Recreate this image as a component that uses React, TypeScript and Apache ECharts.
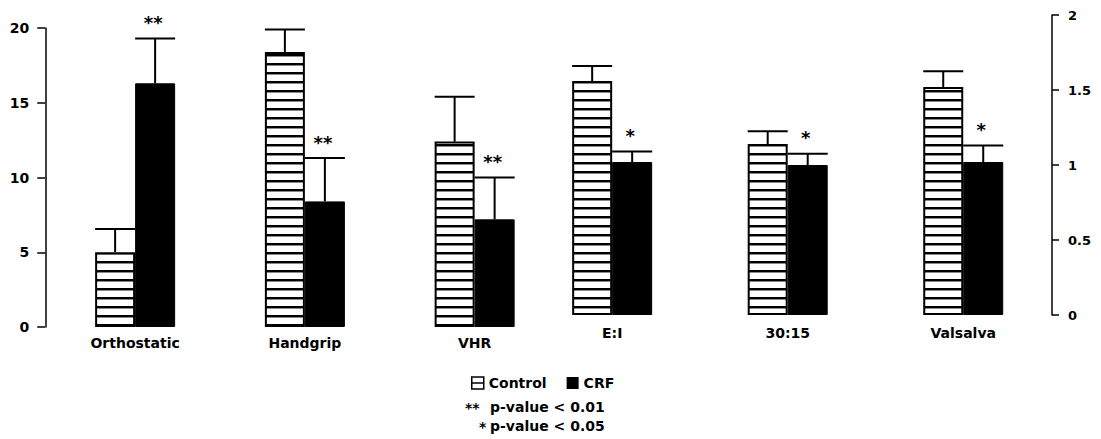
import { useEffect, useRef } from "react";
import * as echarts from "echarts";

// ---- data ----
const categories = ["Orthostatic", "Handgrip", "VHR", "E:I", "30:15", "Valsalva"];
// 0 = left axis (0-20), 1 = right axis (0-2)
const axisOfCategory = [0, 0, 0, 1, 1, 1];
const controlMean = [5.0, 18.4, 12.4, 1.56, 1.14, 1.52];
const controlErr = [1.55, 1.5, 3.0, 0.1, 0.085, 0.105];
const crfMean = [16.3, 8.4, 7.2, 1.02, 1.0, 1.02];
const crfErr = [3.0, 2.9, 2.8, 0.07, 0.075, 0.11];
const significance = ["**", "**", "**", "*", "*", "*"];
const leftAxisRange = { min: 0, max: 20, interval: 5 };
const rightAxisRange = { min: 0, max: 2, interval: 0.5 };
const seriesNames = ["Control", "CRF"];
const noteMarks = ["**", "*"];
const noteTexts = ["p-value < 0.01", "p-value < 0.05"];

const FONT = "DejaVu Sans";

function makeStripePattern() {
  const c = document.createElement("canvas");
  c.width = 8;
  c.height = 9;
  const ctx = c.getContext("2d")!;
  ctx.fillStyle = "#ffffff";
  ctx.fillRect(0, 0, 8, 9);
  ctx.fillStyle = "#000000";
  ctx.fillRect(0, 0, 8, 2);
  ctx.fillStyle = "#888888";
  ctx.fillRect(0, 2, 8, 1);
  return { image: c, repeat: "repeat" as const };
}

function idxFor(group: number) {
  const out: number[] = [];
  axisOfCategory.forEach((g, i) => {
    if (g === group) out.push(i);
  });
  return out;
}

export default function App() {
  const ref = useRef<HTMLDivElement>(null);
  useEffect(() => {
    if (!ref.current) return;
    const chart = echarts.init(ref.current, null, { renderer: "svg" });
    const stripe = makeStripePattern();
    const BAR_W = 40;

    const errSeries = (group: number, which: 0 | 1) => {
      const idx = idxFor(group);
      const means = which === 0 ? controlMean : crfMean;
      const errs = which === 0 ? controlErr : crfErr;
      const offset = which === 0 ? -BAR_W / 2 : BAR_W / 2;
      return {
        type: "custom",
        xAxisIndex: group,
        yAxisIndex: group,
        z: 5,
        silent: true,
        encode: { x: 0, y: 1 },
        data: idx.map((ci, k) => [k, means[ci], errs[ci]]),
        renderItem: (params: any, api: any) => {
          const k = api.value(0);
          const m = api.value(1);
          const e = api.value(2);
          const base = api.coord([k, m]);
          const top = api.coord([k, m + e]);
          const x = base[0] + offset;
          const children: any[] = [
            {
              type: "line",
              shape: { x1: x, y1: base[1], x2: x, y2: top[1] },
              style: { stroke: "#000", lineWidth: 2 },
            },
            {
              type: "line",
              shape: { x1: x - 20, y1: top[1], x2: x + 20, y2: top[1] },
              style: { stroke: "#000", lineWidth: 2 },
            },
          ];
          if (which === 1) {
            children.push({
              type: "text",
              x: x - 2,
              y: top[1] - 16,
              style: {
                text: significance[idx[params.dataIndex]],
                fill: "#000",
                font: `bold 18px "${FONT}"`,
                align: "center",
                verticalAlign: "middle",
                textAlign: "center",
                textVerticalAlign: "middle",
              },
            });
          }
          return { type: "group", children };
        },
      };
    };

    const barSeries = (group: number, which: 0 | 1) => {
      const idx = idxFor(group);
      const means = which === 0 ? controlMean : crfMean;
      return {
        type: "bar",
        name: seriesNames[which],
        xAxisIndex: group,
        yAxisIndex: group,
        barWidth: BAR_W,
        barGap: "0%",
        data: idx.map((ci) => means[ci]),
        itemStyle:
          which === 0
            ? { color: stripe, borderColor: "#000", borderWidth: 2 }
            : { color: "#000", borderColor: "#000", borderWidth: 1 },
      };
    };

    const labelStyle = { color: "#000", fontFamily: FONT, fontWeight: "bold" as const, fontSize: 14 };

    const option: any = {
      animation: false,
      backgroundColor: "#ffffff",
      grid: [
        { left: 50.25, right: 541.5, top: 28, bottom: 112 },
        { left: 524.4, right: 50, top: 15, bottom: 124 },
      ],
      xAxis: [0, 1].map((g) => ({
        type: "category",
        gridIndex: g,
        data: idxFor(g).map((i) => categories[i]),
        axisLine: { show: false },
        axisTick: { show: false },
        axisLabel: { ...labelStyle, margin: g === 0 ? 9 : 11, interval: 0 },
      })),
      yAxis: [
        {
          type: "value",
          gridIndex: 0,
          position: "left",
          offset: 5,
          ...leftAxisRange,
          axisLine: { show: true, lineStyle: { color: "#000", width: 1.5 } },
          axisTick: { show: true, length: 8, lineStyle: { color: "#000", width: 1.5 } },
          axisLabel: { ...labelStyle, margin: 16 },
          splitLine: { show: false },
        },
        {
          type: "value",
          gridIndex: 1,
          position: "right",
          offset: 1,
          ...rightAxisRange,
          axisLine: { show: true, lineStyle: { color: "#000", width: 1.5 } },
          axisTick: { show: true, length: 7, lineStyle: { color: "#000", width: 1.5 } },
          axisLabel: { ...labelStyle, fontSize: 13, margin: 16 },
          splitLine: { show: false },
        },
      ],
      legend: {
        left: 466,
        top: 371,
        itemWidth: 12,
        itemHeight: 12,
        itemGap: 20,
        textStyle: { ...labelStyle },
        data: [
          {
            name: seriesNames[0],
            icon: "path://M0,0H10V10H0ZM0,5H10",
            itemStyle: { color: "#fff", borderColor: "#000", borderWidth: 1.5 },
          },
          { name: seriesNames[1], icon: "rect", itemStyle: { color: "#000", borderWidth: 0 } },
        ],
      },
      graphic: [
        ...noteMarks.map((mk, i) => ({
          type: "text",
          left: i === 0 ? 465 : 479,
          top: i === 0 ? 401 : 420,
          style: { text: mk, fill: "#000", font: `bold 14px "${FONT}"` },
        })),
        ...noteTexts.map((t, i) => ({
          type: "text",
          left: 490,
          top: i === 0 ? 400 : 419,
          style: { text: t, fill: "#000", font: `bold 14px "${FONT}"` },
        })),
      ],
      series: [
        barSeries(0, 0),
        barSeries(0, 1),
        barSeries(1, 0),
        barSeries(1, 1),
        errSeries(0, 0),
        errSeries(0, 1),
        errSeries(1, 0),
        errSeries(1, 1),
      ],
    };
    chart.setOption(option);
    return () => chart.dispose();
  }, []);
  return (
    <div
      ref={ref}
      style={{ position: "fixed", left: 0, top: 0, width: 1101, height: 439, background: "#fff" }}
    />
  );
}
